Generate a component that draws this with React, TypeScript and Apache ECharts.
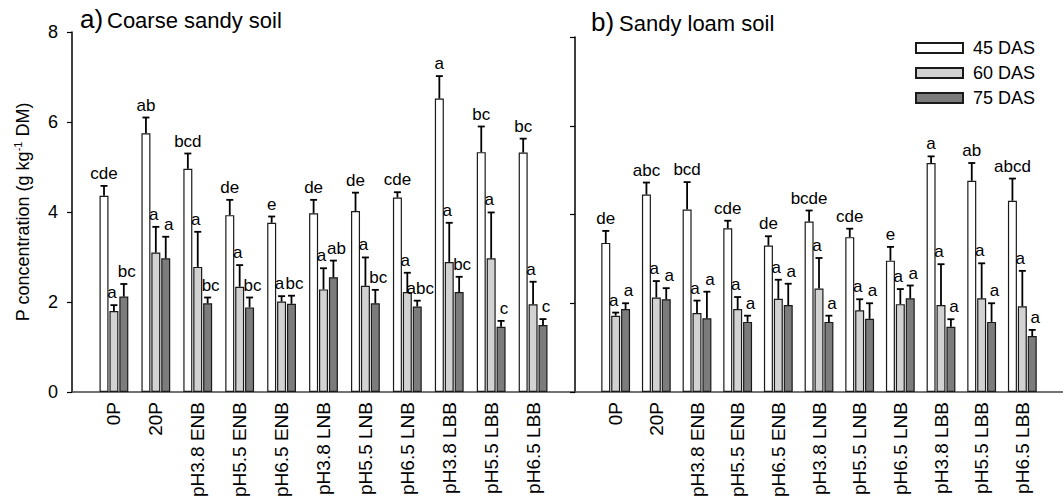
import React, { useEffect, useRef } from "react";
import * as echarts from "echarts";

const categories = ["0P", "20P", "pH3.8 ENB", "pH5.5 ENB", "pH6.5 ENB", "pH3.8 LNB", "pH5.5 LNB", "pH6.5 LNB", "pH3.8 LBB", "pH5.5 LBB", "pH6.5 LBB"];
const seriesNames = ["45 DAS", "60 DAS", "75 DAS"];
const yTicks = [0, 2, 4, 6, 8];

// a) Coarse sandy soil
const coarse45 = [4.36, 5.75, 4.96, 3.93, 3.76, 3.97, 4.02, 4.32, 6.52, 5.33, 5.32];
const coarse45Err = [0.22, 0.35, 0.34, 0.34, 0.14, 0.30, 0.41, 0.12, 0.50, 0.57, 0.31];
const coarse60 = [1.80, 3.10, 2.78, 2.34, 2.01, 2.28, 2.36, 2.22, 2.89, 2.97, 1.95];
const coarse60Err = [0.13, 0.57, 0.78, 0.48, 0.12, 0.47, 0.63, 0.43, 0.87, 1.02, 0.50];
const coarse75 = [2.12, 2.97, 1.97, 1.88, 1.96, 2.55, 1.97, 1.90, 2.22, 1.45, 1.49];
const coarse75Err = [0.28, 0.48, 0.13, 0.22, 0.18, 0.37, 0.30, 0.13, 0.34, 0.13, 0.13];
const coarse45Letters = ["cde", "ab", "bcd", "de", "e", "de", "de", "cde", "a", "bc", "bc"];
const coarse60Letters = ["a", "a", "a", "a", "a", "a", "a", "a", "a", "a", "a"];
const coarse75Letters = ["bc", "a", "bc", "bc", "bc", "ab", "bc", "abc", "bc", "c", "c"];

// b) Sandy loam soil
const loam45 = [3.36, 4.45, 4.11, 3.69, 3.30, 3.84, 3.49, 2.96, 5.16, 4.76, 4.31];
const loam45Err = [0.27, 0.27, 0.62, 0.17, 0.21, 0.25, 0.19, 0.31, 0.15, 0.40, 0.50];
const loam60 = [1.72, 2.13, 1.78, 1.87, 2.10, 2.33, 1.84, 1.98, 1.96, 2.11, 1.93];
const loam60Err = [0.07, 0.37, 0.28, 0.27, 0.43, 0.69, 0.25, 0.34, 0.92, 0.79, 0.80];
const loam75 = [1.87, 2.09, 1.66, 1.58, 1.96, 1.58, 1.65, 2.11, 1.47, 1.58, 1.26];
const loam75Err = [0.13, 0.25, 0.60, 0.14, 0.48, 0.14, 0.35, 0.29, 0.17, 0.42, 0.14];
const loam45Letters = ["de", "abc", "bcd", "cde", "de", "bcde", "cde", "e", "a", "ab", "abcd"];
const loam60Letters = ["a", "a", "a", "a", "a", "a", "a", "a", "a", "a", "a"];
const loam75Letters = ["a", "a", "a", "a", "a", "a", "a", "a", "a", "a", "a"];

const FONT = "'Liberation Sans', Arial, Helvetica, sans-serif";
const barColors = ["#ffffff", "#d2d2d2", "#7c7c7c"];
const BAR_W = 9;
const BAR_GAP = 0.1;
const letterNudge = [0, -2, 3];

export default function App() {
  const ref = useRef<HTMLDivElement>(null);
  useEffect(() => {
    if (!ref.current) return;
    const chart = echarts.init(ref.current, null, { renderer: "svg" });
    const axisCats = ["", ...categories, ""];
    const panels = [
      { means: [coarse45, coarse60, coarse75], errs: [coarse45Err, coarse60Err, coarse75Err], letters: [coarse45Letters, coarse60Letters, coarse75Letters] },
      { means: [loam45, loam60, loam75], errs: [loam45Err, loam60Err, loam75Err], letters: [loam45Letters, loam60Letters, loam75Letters] },
    ];
    const step = BAR_W * (1 + BAR_GAP);
    const offsets = [-step, 0, step];
    const series: any[] = [];
    panels.forEach((p, pi) => {
      p.means.forEach((m, si) => {
        series.push({
          type: "bar",
          name: seriesNames[si],
          xAxisIndex: pi,
          yAxisIndex: pi,
          barWidth: BAR_W,
          barGap: `${BAR_GAP * 100}%`,
          itemStyle: { color: barColors[si], borderColor: "#1a1a1a", borderWidth: 1.2 },
          data: m.map((v, i) => [i + 1, v]),
          z: 2,
        });
      });
    });
    panels.forEach((p, pi) => {
      p.means.forEach((m, si) => {
        const letters = p.letters[si];
        series.push({
          type: "custom",
          xAxisIndex: pi,
          yAxisIndex: pi,
          z: 5,
          data: m.map((v, i) => [i + 1, v, p.errs[si][i]]),
          renderItem: (params: any, api: any) => {
            const ci = api.value(0);
            const mean = api.value(1);
            const err = api.value(2);
            const b = api.coord([ci, mean]);
            const t = api.coord([ci, mean + err]);
            const x = b[0] + offsets[si];
            return {
              type: "group",
              children: [
                { type: "line", shape: { x1: x, y1: b[1], x2: x, y2: t[1] }, style: { stroke: "#000", lineWidth: 1.8 } },
                { type: "line", shape: { x1: x - 3.5, y1: t[1], x2: x + 3.5, y2: t[1] }, style: { stroke: "#000", lineWidth: 1.8 } },
                {
                  type: "text",
                  x: x + letterNudge[si],
                  y: t[1] - 4,
                  style: { text: letters[params.dataIndex], font: `17px ${FONT}`, fill: "#000", align: "center", verticalAlign: "bottom" },
                },
              ],
            };
          },
        });
      });
    });

    const xAxisBase = (gi: number) => ({
      type: "category",
      gridIndex: gi,
      data: axisCats,
      boundaryGap: false,
      axisLine: { show: true, lineStyle: { color: "#444", width: 1.5 } },
      axisTick: { show: false },
      axisLabel: { interval: 0, rotate: 90, fontSize: 19, color: "#000", fontFamily: FONT, margin: 10 },
      splitLine: { show: false },
    });
    const yAxisBase = (gi: number, showLabels: boolean) => ({
      type: "value",
      gridIndex: gi,
      min: yTicks[0],
      max: yTicks[yTicks.length - 1],
      interval: yTicks[1] - yTicks[0],
      axisLine: { show: true, lineStyle: { color: "#000", width: 1.5 } },
      axisTick: { show: true, length: 5, lineStyle: { color: "#000", width: 1.2 } },
      axisLabel: { show: showLabels, fontSize: 18, color: "#000", fontFamily: FONT, margin: 14 },
      splitLine: { show: false },
    });

    chart.setOption({
      animation: false,
      backgroundColor: "#fff",
      grid: [
        { left: 72, top: 32, right: 488, bottom: 110 },
        { left: 575, top: 37, right: 0, bottom: 110 },
      ],
      xAxis: [xAxisBase(0), xAxisBase(1)],
      yAxis: [
        {
          ...yAxisBase(0, true),
          name: "P concentration (g kg{sup|-1} DM)",
          nameLocation: "middle",
          nameGap: 38,
          nameTextStyle: {
            fontSize: 18,
            color: "#000",
            fontFamily: FONT,
            lineHeight: 22,
            rich: { sup: { fontSize: 11, fontFamily: FONT, color: "#000", verticalAlign: "top" } },
          },
        },
        yAxisBase(1, false),
      ],
      legend: {
        data: seriesNames,
        orient: "vertical",
        left: 915,
        top: 39,
        padding: 0,
        itemWidth: 47,
        itemHeight: 10,
        itemGap: 7,
        icon: "rect",
        textStyle: { fontSize: 18, lineHeight: 18, color: "#000", fontFamily: FONT, padding: [0, 0, 0, 5] },
      },
      graphic: [
        { type: "text", x: 80, y: 19, style: { text: "a)", font: `26px ${FONT}`, fill: "#000", verticalAlign: "middle" } },
        { type: "text", x: 107, y: 20, style: { text: "Coarse sandy soil", font: `22px ${FONT}`, fill: "#000", verticalAlign: "middle" } },
        { type: "text", x: 591, y: 22, style: { text: "b)", font: `26px ${FONT}`, fill: "#000", verticalAlign: "middle" } },
        { type: "text", x: 619, y: 23, style: { text: "Sandy loam soil", font: `22px ${FONT}`, fill: "#000", verticalAlign: "middle" } },
      ],
      series,
    });
    return () => chart.dispose();
  }, []);
  return <div ref={ref} style={{ position: "absolute", left: 0, top: 0, width: 1063, height: 502 }} />;
}
